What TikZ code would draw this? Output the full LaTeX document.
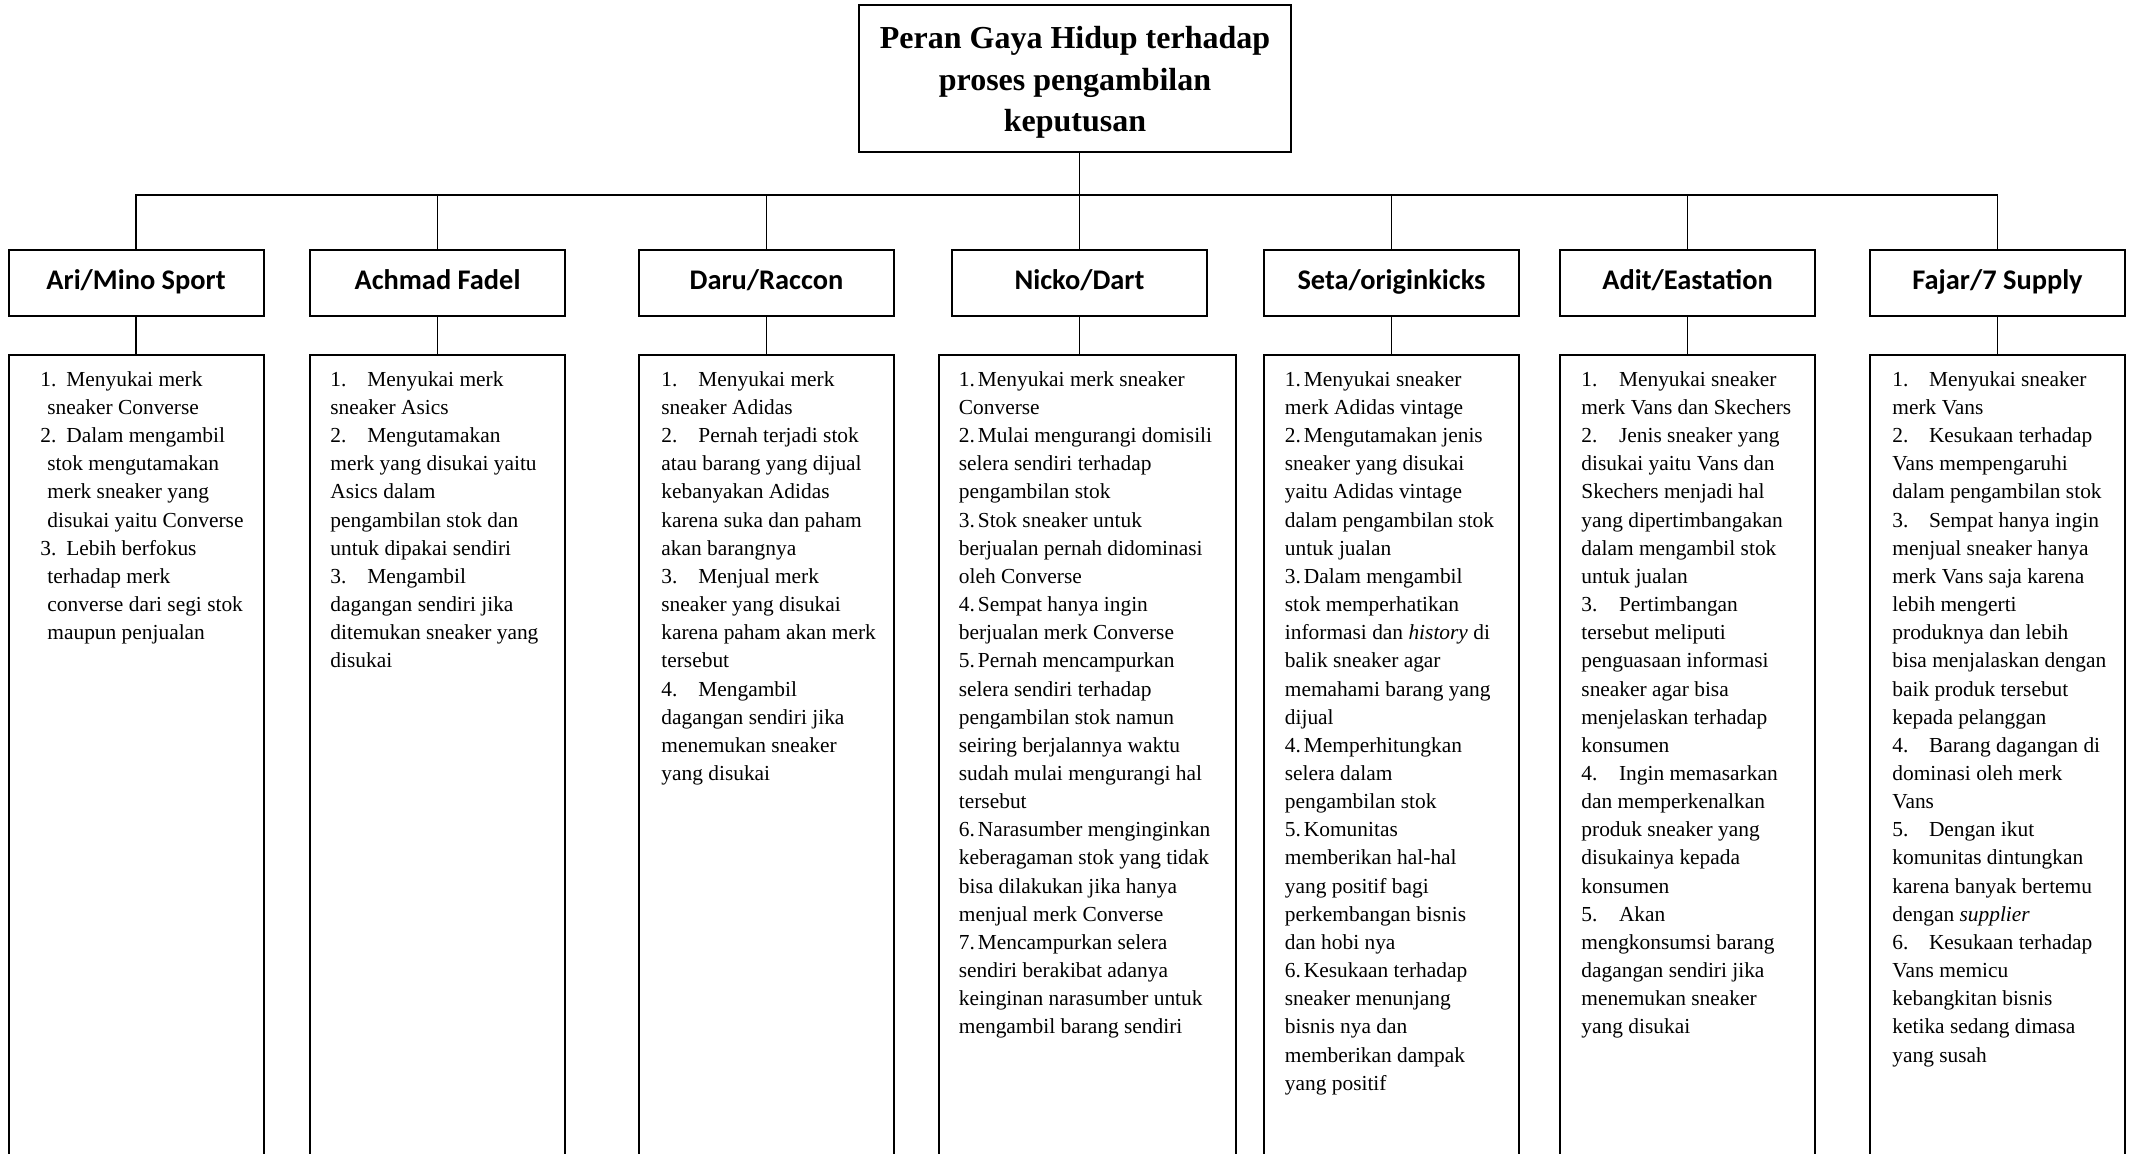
\documentclass[tikz,border=0pt]{standalone}
\usepackage{fontspec}
\setmainfont{Liberation Serif}
\newfontfamily\headfont{Carlito}
\newcommand{\itemno}[2]{\makebox[#1][l]{#2}}

\begin{document}
\begin{tikzpicture}[x=0.5pt,y=-0.5pt]
        % Setup the styles for the boxes
        \tikzset{title style/.style={draw,
                                    line width=1pt,
                                    minimum width=216pt,
                                    minimum height=73.5pt,
                                    align=center,
                                    font=\fontsize{16}{20.75}\selectfont\bfseries}}
        \tikzset{head style/.style={draw,
                                    line width=1pt,
                                    minimum width=127.5pt,
                                    minimum height=33pt,
                                    text height=10.4pt,
                                    text depth=3.5pt,
                                    font=\headfont\bfseries\fontsize{14.2}{17}\selectfont}}
        \tikzset{list style/.style={draw,
                                    line width=1pt,
                                    minimum width=127.5pt,
                                    minimum height=420pt,
                                    anchor=north}}
        \tikzset{text style/.style={anchor=north west,
                                    inner sep=0pt,
                                    align=left,
                                    font=\fontsize{10.7}{14.08}\selectfont}}

        \clip (0,0) rectangle (2134,1153);

        % Draw the title
        \node[title style] at (1075,78.5) (peran) {\rule{0pt}{15pt}Peran Gaya Hidup terhadap\\proses pengambilan\\keputusan};
        \coordinate (bus) at (1075,195);

        % Draw the headers
        \node[head style] at (136,283)    (ari)    {Ari/Mino Sport};
        \node[head style] at (437.5,283)  (achmad) {Achmad Fadel};
        \node[head style] at (766.5,283)  (daru)   {Daru/Raccon};
        \node[head style] at (1079.5,283) (nicko)  {Nicko/Dart};
        \node[head style] at (1391.5,283) (seta)   {Seta/originkicks};
        \node[head style] at (1687.5,283) (adit)   {Adit/Eastation};
        \node[head style] at (1997.5,283) (fajar)  {Fajar/7 Supply};

        % Draw the list boxes
        \node[list style] at (136,354)    (ari list)    {};
        \node[list style] at (437.5,354)  (achmad list) {};
        \node[list style] at (766.5,354)  (daru list)   {};
        \node[list style, minimum width=148.5pt] at (1087.5,354) (nicko list) {};
        \node[list style] at (1391.5,354) (seta list)   {};
        \node[list style] at (1687.5,354) (adit list)   {};
        \node[list style] at (1997.5,354) (fajar list)  {};

        % Write the lists
        \node[text style] at (40,371) (ari text) {%
            \itemno{13pt}{1.}Menyukai merk\\
            \hspace*{3.5pt}sneaker Converse\\
            \itemno{13pt}{2.}Dalam mengambil\\
            \hspace*{3.5pt}stok mengutamakan\\
            \hspace*{3.5pt}merk sneaker yang\\
            \hspace*{3.5pt}disukai yaitu Converse\\
            \itemno{13pt}{3.}Lebih berfokus\\
            \hspace*{3.5pt}terhadap merk\\
            \hspace*{3.5pt}converse dari segi stok\\
            \hspace*{3.5pt}maupun penjualan};
        \node[text style] at (330,371) (achmad text) {%
            \itemno{18.5pt}{1.}Menyukai merk\\
            sneaker Asics\\
            \itemno{18.5pt}{2.}Mengutamakan\\
            merk yang disukai yaitu\\
            Asics dalam\\
            pengambilan stok dan\\
            untuk dipakai sendiri\\
            \itemno{18.5pt}{3.}Mengambil\\
            dagangan sendiri jika\\
            ditemukan sneaker yang\\
            disukai};
        \node[text style] at (661,371) (daru text) {%
            \itemno{18.5pt}{1.}Menyukai merk\\
            sneaker Adidas\\
            \itemno{18.5pt}{2.}Pernah terjadi stok\\
            atau barang yang dijual\\
            kebanyakan Adidas\\
            karena suka dan paham\\
            akan barangnya\\
            \itemno{18.5pt}{3.}Menjual merk\\
            sneaker yang disukai\\
            karena paham akan merk\\
            tersebut\\
            \itemno{18.5pt}{4.}Mengambil\\
            dagangan sendiri jika\\
            menemukan sneaker\\
            yang disukai};
        \node[text style] at (958.5,371) (nicko text) {%
            \itemno{9.5pt}{1.}Menyukai merk sneaker\\
            Converse\\
            \itemno{9.5pt}{2.}Mulai mengurangi domisili\\
            selera sendiri terhadap\\
            pengambilan stok\\
            \itemno{9.5pt}{3.}Stok sneaker untuk\\
            berjualan pernah didominasi\\
            oleh Converse\\
            \itemno{9.5pt}{4.}Sempat hanya ingin\\
            berjualan merk Converse\\
            \itemno{9.5pt}{5.}Pernah mencampurkan\\
            selera sendiri terhadap\\
            pengambilan stok namun\\
            seiring berjalannya waktu\\
            sudah mulai mengurangi hal\\
            tersebut\\
            \itemno{9.5pt}{6.}Narasumber menginginkan\\
            keberagaman stok yang tidak\\
            bisa dilakukan jika hanya\\
            menjual merk Converse\\
            \itemno{9.5pt}{7.}Mencampurkan selera\\
            sendiri berakibat adanya\\
            keinginan narasumber untuk\\
            mengambil barang sendiri};
        \node[text style] at (1284.5,371) (seta text) {%
            \itemno{9.5pt}{1.}Menyukai sneaker\\
            merk Adidas vintage\\
            \itemno{9.5pt}{2.}Mengutamakan jenis\\
            sneaker yang disukai\\
            yaitu Adidas vintage\\
            dalam pengambilan stok\\
            untuk jualan\\
            \itemno{9.5pt}{3.}Dalam mengambil\\
            stok memperhatikan\\
            informasi dan \textit{history} di\\
            balik sneaker agar\\
            memahami barang yang\\
            dijual\\
            \itemno{9.5pt}{4.}Memperhitungkan\\
            selera dalam\\
            pengambilan stok\\
            \itemno{9.5pt}{5.}Komunitas\\
            memberikan hal-hal\\
            yang positif bagi\\
            perkembangan bisnis\\
            dan hobi nya\\
            \itemno{9.5pt}{6.}Kesukaan terhadap\\
            sneaker menunjang\\
            bisnis nya dan\\
            memberikan dampak\\
            yang positif};
        \node[text style] at (1581,371) (adit text) {%
            \itemno{18.8pt}{1.}Menyukai sneaker\\
            merk Vans dan Skechers\\
            \itemno{18.8pt}{2.}Jenis sneaker yang\\
            disukai yaitu Vans dan\\
            Skechers menjadi hal\\
            yang dipertimbangakan\\
            dalam mengambil stok\\
            untuk jualan\\
            \itemno{18.8pt}{3.}Pertimbangan\\
            tersebut meliputi\\
            penguasaan informasi\\
            sneaker agar bisa\\
            menjelaskan terhadap\\
            konsumen\\
            \itemno{18.8pt}{4.}Ingin memasarkan\\
            dan memperkenalkan\\
            produk sneaker yang\\
            disukainya kepada\\
            konsumen\\
            \itemno{18.8pt}{5.}Akan\\
            mengkonsumsi barang\\
            dagangan sendiri jika\\
            menemukan sneaker\\
            yang disukai};
        \node[text style] at (1892,371) (fajar text) {%
            \itemno{18.3pt}{1.}Menyukai sneaker\\
            merk Vans\\
            \itemno{18.3pt}{2.}Kesukaan terhadap\\
            Vans mempengaruhi\\
            dalam pengambilan stok\\
            \itemno{18.3pt}{3.}Sempat hanya ingin\\
            menjual sneaker hanya\\
            merk Vans saja karena\\
            lebih mengerti\\
            produknya dan lebih\\
            bisa menjalaskan dengan\\
            baik produk tersebut\\
            kepada pelanggan\\
            \itemno{18.3pt}{4.}Barang dagangan di\\
            dominasi oleh merk\\
            Vans\\
            \itemno{18.3pt}{5.}Dengan ikut\\
            komunitas dintungkan\\
            karena banyak bertemu\\
            dengan \textit{supplier}\\
            \itemno{18.3pt}{6.}Kesukaan terhadap\\
            Vans memicu\\
            kebangkitan bisnis\\
            ketika sedang dimasa\\
            yang susah};

        % Connect the boxes
        \draw[line width=0.6pt]
            (peran.south -| nicko.north) -- (nicko.north)
            (ari.north) |- (bus -| fajar.north) -- (fajar.north)
            (achmad.north) -- (achmad.north |- bus)
            (daru.north) -- (daru.north |- bus)
            (seta.north) -- (seta.north |- bus)
            (adit.north) -- (adit.north |- bus)
            (ari) -- (ari list)
            (achmad) -- (achmad list)
            (daru) -- (daru list)
            (nicko.south) -- (nicko.south |- nicko list.north)
            (seta) -- (seta list)
            (adit) -- (adit list)
            (fajar) -- (fajar list);
\end{tikzpicture}
\end{document}
